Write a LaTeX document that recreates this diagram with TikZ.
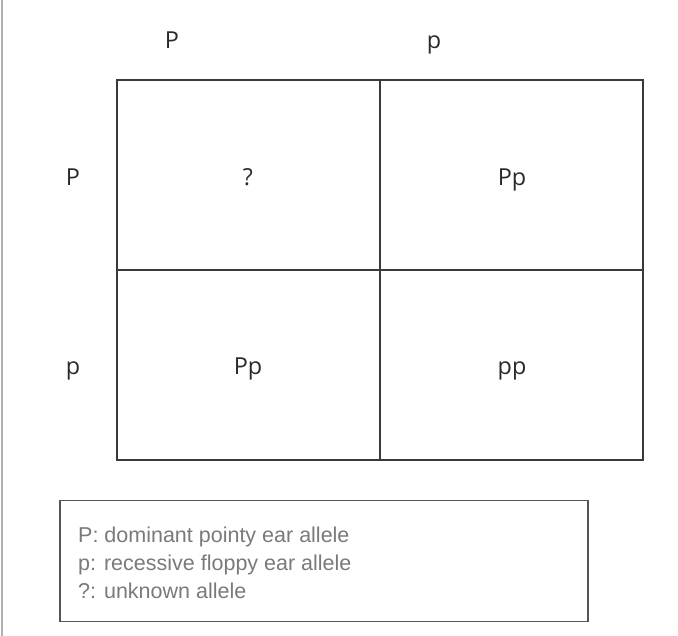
\documentclass[tikz,border=0pt]{standalone}
\usepackage{fontspec}
\setmainfont{Open Sans}
\newfontfamily\legfont{Liberation Sans}
\definecolor{gridc}{HTML}{3A3A3A}
\definecolor{labc}{HTML}{2A2A2A}
\definecolor{legc}{HTML}{7A7A7A}
\definecolor{legbox}{HTML}{555555}
\definecolor{sidec}{HTML}{B0B0B0}
\tikzset{
  lab/.style={text=labc, font=\fontsize{23.4}{28}\selectfont, inner sep=0pt, anchor=base},
  legline/.style={anchor=base west, inner sep=0pt, text=legc, font=\legfont\fontsize{21.5}{26}\selectfont},
  gridline/.style={draw=gridc, line width=2.2pt},
}
\begin{document}
\begin{tikzpicture}[x=1pt,y=-1pt]
\useasboundingbox (0,0) rectangle (678,636);
\fill[white] (0,0) rectangle (678,636);
\draw[sidec, line width=2pt] (1.5,0) -- (1.5,636);
% grid
\coordinate (tl) at (117,80);
\coordinate (br) at (643,460);
\draw[gridline] (tl) rectangle (br);
\coordinate (vt) at (380,80);
\coordinate (vb) at (380,460);
\coordinate (hl) at (117,270);
\coordinate (hr) at (643,270);
\draw[gridline] (vt) -- (vb);
\draw[gridline] (hl) -- (hr);
% labels
\node[lab] (tP) at (172,48.3) {P};
\node[lab] (tp) at (434,48.3) {p};
\node[lab] (lP) at (73,185.3) {P};
\node[lab] (lp) at (73,375) {p};
\node[lab] (c11) at (248,185.3) {?};
\node[lab] (c12) at (512,185.3) {Pp};
\node[lab] (c21) at (248,375) {Pp};
\node[lab] (c22) at (512,375) {pp};
% legend
\node[draw=legbox, line width=1.6pt, minimum width=528pt, minimum height=121pt, inner sep=0pt] (leg) at (324,561) {};
\node[legline] (leg1) at (78,542.7) {P: dominant pointy ear allele};
\node[legline] (leg2) at (78,570.4) {p: recessive floppy ear allele};
\node[legline] (leg3) at (78,598.1) {?: unknown allele};
\end{tikzpicture}
\end{document}
